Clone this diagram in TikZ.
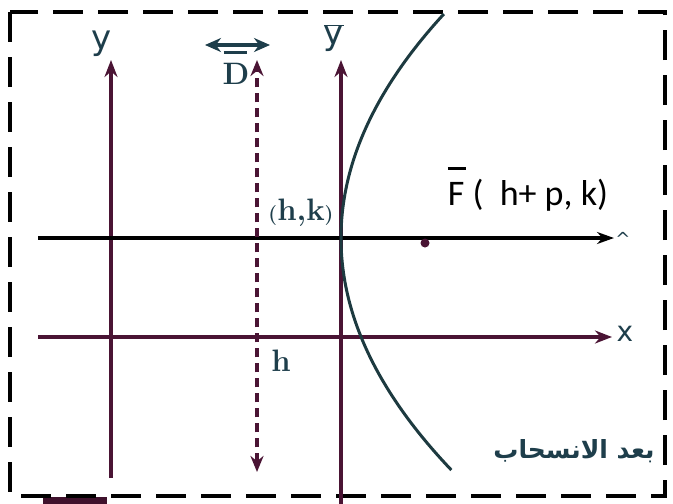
\documentclass[tikz,border=0pt]{standalone}
\usepackage{fontspec}
\usepackage{xcolor}
\usepackage{tikz}
\usetikzlibrary{arrows.meta,positioning}
\TeXXeTstate=1
\newfontfamily\axisfont{DejaVu Sans}
\newfontfamily\focusfont{Carlito}
\newfontfamily\arabicfont[Script=Arabic]{DejaVu Sans}
\definecolor{plum}{HTML}{4A1434}
\definecolor{deepteal}{HTML}{1E3E4B}
\definecolor{curveteal}{HTML}{1D3A40}
\newcommand{\barF}{\rlap{\raisebox{0pt}[0pt][0pt]{\rule[0.98em]{0.5em}{0.07em}}}F}
\newcommand{\barD}{\rlap{\raisebox{0pt}[0pt][0pt]{\hspace{0.03em}\rule[0.98em]{0.76em}{0.09em}}}D}

\begin{document}
\begin{tikzpicture}[x=1pt,y=-1pt,
 ax/.style={plum,line width=3.2pt,-{Stealth[length=17pt,width=13pt]}},
 shiftax/.style={black,line width=3.2pt,-{Stealth[length=17pt,width=12pt]}},
 dirx/.style={plum,line width=3.6pt,dash pattern=on 9pt off 6pt,{Stealth[length=16pt,width=13pt]}-{Stealth[length=16pt,width=13pt]}},
 darr/.style={deepteal,line width=3.6pt,{Stealth[length=16pt,width=14pt]}-{Stealth[length=16pt,width=14pt]}},
 axlbl/.style={deepteal,inner sep=0pt,font=\axisfont\fontsize{34}{36}\selectfont},
 bold/.style={deepteal,inner sep=0pt,font=\bfseries\fontsize{31}{33}\selectfont},
 curve/.style={curveteal,line width=3pt}
]
\useasboundingbox (0,0) rectangle (673,504);

% frame
\fill[plum!85!black] (43,497) rectangle (107,504);
\draw[line width=4.5pt,dash pattern=on 30pt off 15pt] (10,12) rectangle (665,496);

% ends of the lines
\coordinate (ybot) at (111,478);
\coordinate (ytop) at (111,60);
\coordinate (ybbot) at (341,504);
\coordinate (ybtop) at (341,60);
\coordinate (xleft) at (38,337);
\coordinate (xright) at (612,337);
\coordinate (uleft) at (38,238);
\coordinate (uright) at (614,238);
\coordinate (dtop) at (257,60);
\coordinate (dbot) at (257,472);
\coordinate (aleft) at (205,45);
\coordinate (aright) at (270,45);

% axes
\draw[ax] (ybot) -- (ytop);
\draw[ax] (ybbot) -- (ybtop);
\draw[ax] (xleft) -- (xright);
\draw[shiftax] (uleft) -- (uright);
\draw[dirx] (dbot) -- (dtop);
\draw[darr] (aleft) -- (aright);

% parabola
\draw[curve] plot[domain=-224:232,samples=90,smooth] ({341+20.5*(\x/100)*(\x/100)},{238+\x});
\node[circle,fill=plum,inner sep=0pt,minimum size=9pt] (focus) at (425,243) {};

% labels
\node[axlbl] (ylab) at (102,44) {y};
\node[axlbl] (yblab) at (334,38) {$\overline{\mbox{\axisfont y}}$};
\node[axlbl,font=\axisfont\fontsize{28}{30}\selectfont] (xlab) at (625,334) {x};
\node[deepteal,inner sep=0pt,font=\axisfont\fontsize{18}{18}\selectfont] (caret) at (623,239) {\textasciicircum};
\node[bold] (dlab) at (236,74) {\barD};
\node[bold] (hk) at (301,213) {{\fontsize{20}{20}\selectfont(}h,k{\fontsize{20}{20}\selectfont)}};
\node[bold] (hlab) at (281,361) {h};
\node[black,inner sep=0pt,font=\focusfont\fontsize{36}{38}\selectfont] (flab) at (528,195) {\barF\ (\ \ h+ p, k)};
\node[deepteal,inner sep=0pt,font=\arabicfont\bfseries\fontsize{25}{28}\selectfont] (after) at (574,451) {\beginR بعد الانسحاب\endR};
\end{tikzpicture}
\end{document}
